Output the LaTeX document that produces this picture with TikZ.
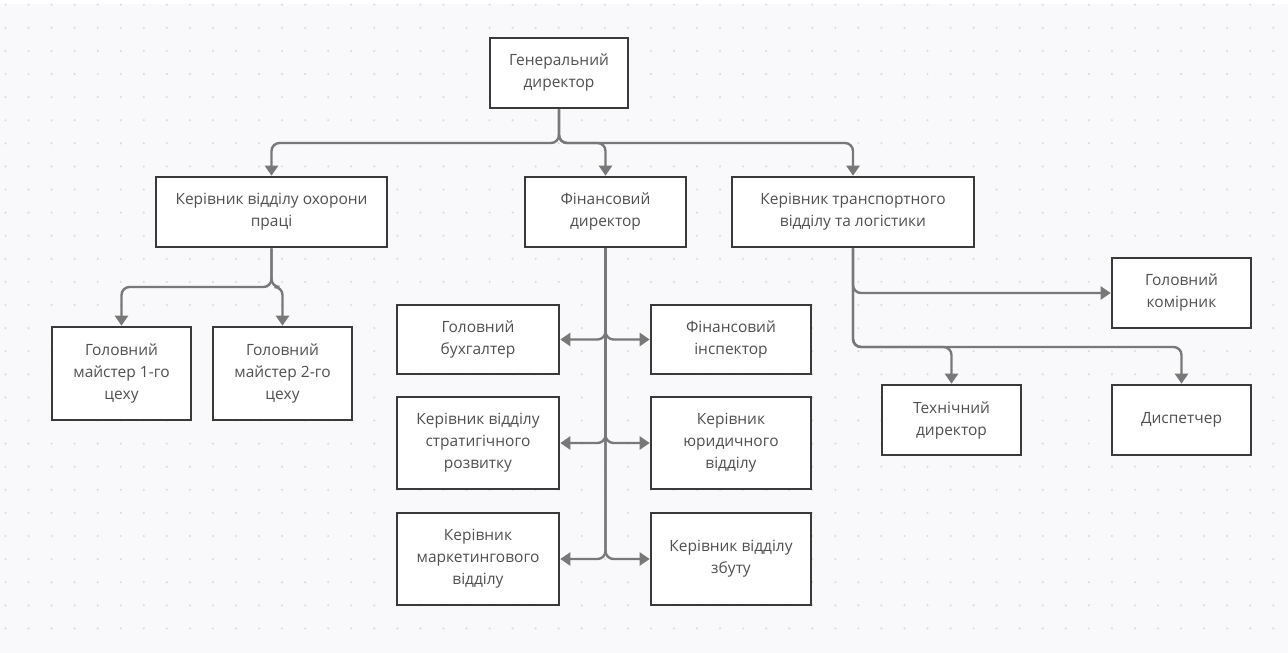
\documentclass[tikz,border=0pt]{standalone}
\usepackage{fontspec}
\setmainfont{Open Sans}
\usetikzlibrary{arrows.meta}
\definecolor{tlo}{HTML}{F9F9FB}
\definecolor{krapka}{HTML}{DCDCE1}
\definecolor{ramka}{HTML}{3A3A3A}
\definecolor{liniia}{HTML}{787878}
\definecolor{tekst}{HTML}{505050}
\tikzset{
  posada/.style={draw=ramka, fill=white, line width=2.6pt, align=center, text=tekst,
    font=\fontsize{15.5}{22}\selectfont, inner sep=0pt},
  zvyazok/.style={draw=liniia, line width=2.4pt, rounded corners=8pt,
    -{Triangle[length=10pt,width=13pt]}},
}
\begin{document}
\begin{tikzpicture}[x=1pt,y=-1pt]
    \useasboundingbox (0,0) rectangle (1288,653);
    \fill[tlo] (0,4) rectangle (1288,653);
    \foreach \i in {0,...,55}
      \foreach \j in {0,...,27}
        \fill[krapka] (5.5+23.05*\i,4.7+23.1*\j) circle (1.2pt);

    % top
    \node[posada, minimum width=138pt, minimum height=70pt] (GD) at (559,73) {Генеральний\\директор};

    \node[posada, minimum width=231pt, minimum height=70pt] (OP) at (271.5,212) {Керівник відділу охорони\\праці};
    \node[posada, minimum width=161pt, minimum height=70pt] (FD) at (605.5,212) {Фінансовий\\директор};
    \node[posada, minimum width=242pt, minimum height=70pt] (TL) at (853,212) {Керівник транспортного\\відділу та логістики};

    \coordinate (R0) at (559,143);
    \draw[zvyazok] (GD.south) -- (R0) -| (OP.north);
    \draw[zvyazok] (GD.south) -- (R0) -| (FD.north);
    \draw[zvyazok] (GD.south) -- (R0) -| (TL.north);

    % left branch
    \node[posada, minimum width=139pt, minimum height=93pt] (M1) at (121.5,373.5) {Головний\\майстер 1-го\\цеху};
    \node[posada, minimum width=139pt, minimum height=93pt] (M2) at (282.5,373.5) {Головний\\майстер 2-го\\цеху};

    \coordinate (R1) at (271.5,287);
    \draw[zvyazok] (OP.south) -- (R1) -| (M1.north);
    \draw[zvyazok] (OP.south) -- (R1) -| (M2.north);

    % finance
    \node[posada, minimum width=162pt, minimum height=69pt] (GB) at (478,339.5) {Головний\\бухгалтер};
    \node[posada, minimum width=160pt, minimum height=69pt] (FI) at (731,339.5) {Фінансовий\\інспектор};
    \node[posada, minimum width=162pt, minimum height=92pt] (SR) at (478,443) {Керівник відділу\\стратигічного\\розвитку};
    \node[posada, minimum width=160pt, minimum height=92pt] (YU) at (731,443) {Керівник\\юридичного\\відділу};
    \node[posada, minimum width=162pt, minimum height=92pt] (MV) at (478,559) {Керівник\\маркетингового\\відділу};
    \node[posada, minimum width=160pt, minimum height=92pt] (ZB) at (731,559) {Керівник відділу\\збуту};

    \draw[zvyazok] (FD.south) |- (GB.east);
    \draw[zvyazok] (FD.south) |- (FI.west);
    \draw[zvyazok] (FD.south) |- (SR.east);
    \draw[zvyazok] (FD.south) |- (YU.west);
    \draw[zvyazok] (FD.south) |- (MV.east);
    \draw[zvyazok] (FD.south) |- (ZB.west);

    % transport
    \node[posada, minimum width=139pt, minimum height=70pt] (GK) at (1181.5,293) {Головний\\комірник};
    \node[posada, minimum width=139pt, minimum height=70pt] (TD) at (951.5,420) {Технічний\\директор};
    \node[posada, minimum width=139pt, minimum height=70pt] (DS) at (1181.5,420) {Диспетчер};

    \coordinate (R2) at (853,347);
    \draw[zvyazok] (TL.south) |- (GK.west);
    \draw[zvyazok] (TL.south) -- (R2) -| (TD.north);
    \draw[zvyazok] (TL.south) -- (R2) -| (DS.north);

\end{tikzpicture}
\end{document}
